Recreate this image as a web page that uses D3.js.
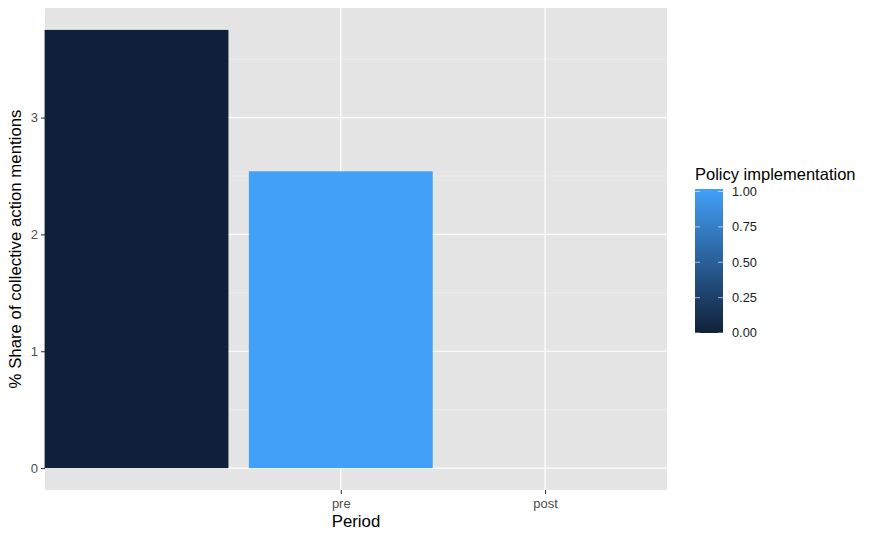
<!DOCTYPE html>
<html>
<head>
<meta charset="utf-8">
<script src="https://cdn.jsdelivr.net/npm/d3@7"></script>
<style>
  body { margin: 0; background: #fff; }
  svg { font-family: "Liberation Sans", Arial, sans-serif; }
  .axis path { display: none; }
  .axis line { stroke: #333; stroke-width: 1.07; }
  .axis text { fill: #4d4d4d; font-size: 13px; }
</style>
</head>
<body>
<svg class="chart"></svg>
<script>
// data
var periods = ["", "pre", "post"];
var shares = [3.75, 2.54, null];
var policy = [0, 1, null];
var yTicks = [0, 1, 2, 3];
var yMinor = [0.5, 1.5, 2.5, 3.5];
var legendTicks = [0, 0.25, 0.5, 0.75, 1];

var width = 875, height = 540;
var panel = {left: 45, right: 667, top: 8, bottom: 490};

var svg = d3.select(".chart")
    .attr("width", width)
    .attr("height", height);

var x = d3.scaleLinear()
    .domain([-0.448, 2.597])
    .range([panel.left, panel.right]);

var y = d3.scaleLinear()
    .domain([-0.1875, 3.9375])
    .range([panel.bottom, panel.top]);

var fill = d3.scaleLinear()
    .domain([0, 1])
    .range(["#11203a", "#42a0f8"]);

var barW = x(0.9) - x(0);

// panel background
svg.append("rect")
    .attr("x", panel.left)
    .attr("y", panel.top)
    .attr("width", panel.right - panel.left)
    .attr("height", panel.bottom - panel.top)
    .attr("fill", "#e5e5e5");

// grid
svg.append("g").selectAll("line")
    .data(yMinor)
  .enter().append("line")
    .attr("x1", panel.left).attr("x2", panel.right)
    .attr("y1", d => y(d)).attr("y2", d => y(d))
    .attr("stroke", "#f2f2f2").attr("stroke-width", 0.6);

svg.append("g").selectAll("line")
    .data(yTicks)
  .enter().append("line")
    .attr("x1", panel.left).attr("x2", panel.right)
    .attr("y1", d => y(d)).attr("y2", d => y(d))
    .attr("stroke", "#fff").attr("stroke-width", 1.2);

svg.append("g").selectAll("line")
    .data([1, 2])
  .enter().append("line")
    .attr("x1", d => x(d)).attr("x2", d => x(d))
    .attr("y1", panel.top).attr("y2", panel.bottom)
    .attr("stroke", "#fff").attr("stroke-width", 1.2);

// bars
var rows = periods.map((p, i) => ({i: i, share: shares[i], policy: policy[i]}))
    .filter(d => d.share != null);

svg.append("g").selectAll("rect")
    .data(rows)
  .enter().append("rect")
    .attr("x", d => x(d.i) - barW / 2)
    .attr("width", barW)
    .attr("y", d => y(d.share))
    .attr("height", d => y(0) - y(d.share))
    .attr("fill", d => fill(d.policy));

// axes
svg.append("g")
    .attr("class", "axis")
    .attr("transform", `translate(0,${panel.bottom})`)
    .call(d3.axisBottom(x)
      .tickValues([1, 2])
      .tickFormat(d => periods[d])
      .tickSize(4)
      .tickPadding(5));

svg.append("g")
    .attr("class", "axis")
    .attr("transform", `translate(${panel.left},0)`)
    .call(d3.axisLeft(y)
      .tickValues(yTicks)
      .tickFormat(d3.format("d"))
      .tickSize(4)
      .tickPadding(3));

svg.append("text")
    .attr("x", (panel.left + panel.right) / 2)
    .attr("y", 527)
    .attr("text-anchor", "middle")
    .attr("font-size", "16.8px")
    .text("Period");

svg.append("text")
    .attr("transform", `translate(21,${(panel.top + panel.bottom) / 2}) rotate(-90)`)
    .attr("text-anchor", "middle")
    .attr("font-size", "16.8px")
    .text("% Share of collective action mentions");

// legend
var leg = {x: 695, top: 189, bottom: 333, w: 28};
var ly = d3.scaleLinear().domain([0, 1]).range([333, 191.5]);

var grad = svg.append("defs").append("linearGradient")
    .attr("id", "cbar")
    .attr("x1", 0).attr("y1", 1).attr("x2", 0).attr("y2", 0);
grad.selectAll("stop")
    .data([0, 1])
  .enter().append("stop")
    .attr("offset", d => d)
    .attr("stop-color", d => fill(d));

svg.append("text")
    .attr("x", leg.x)
    .attr("y", 180)
    .attr("font-size", "16.5px")
    .text("Policy implementation");

svg.append("rect")
    .attr("x", leg.x)
    .attr("y", leg.top)
    .attr("width", leg.w)
    .attr("height", leg.bottom - leg.top)
    .attr("fill", "url(#cbar)");

var lt = svg.append("g").selectAll("g")
    .data(legendTicks)
  .enter().append("g");

lt.append("line")
    .attr("x1", leg.x).attr("x2", leg.x + 5)
    .attr("y1", d => ly(d)).attr("y2", d => ly(d))
    .attr("stroke", "#fff").attr("stroke-width", 0.6);
lt.append("line")
    .attr("x1", leg.x + leg.w - 5).attr("x2", leg.x + leg.w)
    .attr("y1", d => ly(d)).attr("y2", d => ly(d))
    .attr("stroke", "#fff").attr("stroke-width", 0.6);
lt.append("text")
    .attr("x", leg.x + leg.w + 9)
    .attr("y", d => ly(d))
    .attr("dy", "0.35em")
    .attr("font-size", "12.8px")
    .attr("fill", "#1a1a1a")
    .text(d => d3.format(".2f")(d));
</script>
</body>
</html>
